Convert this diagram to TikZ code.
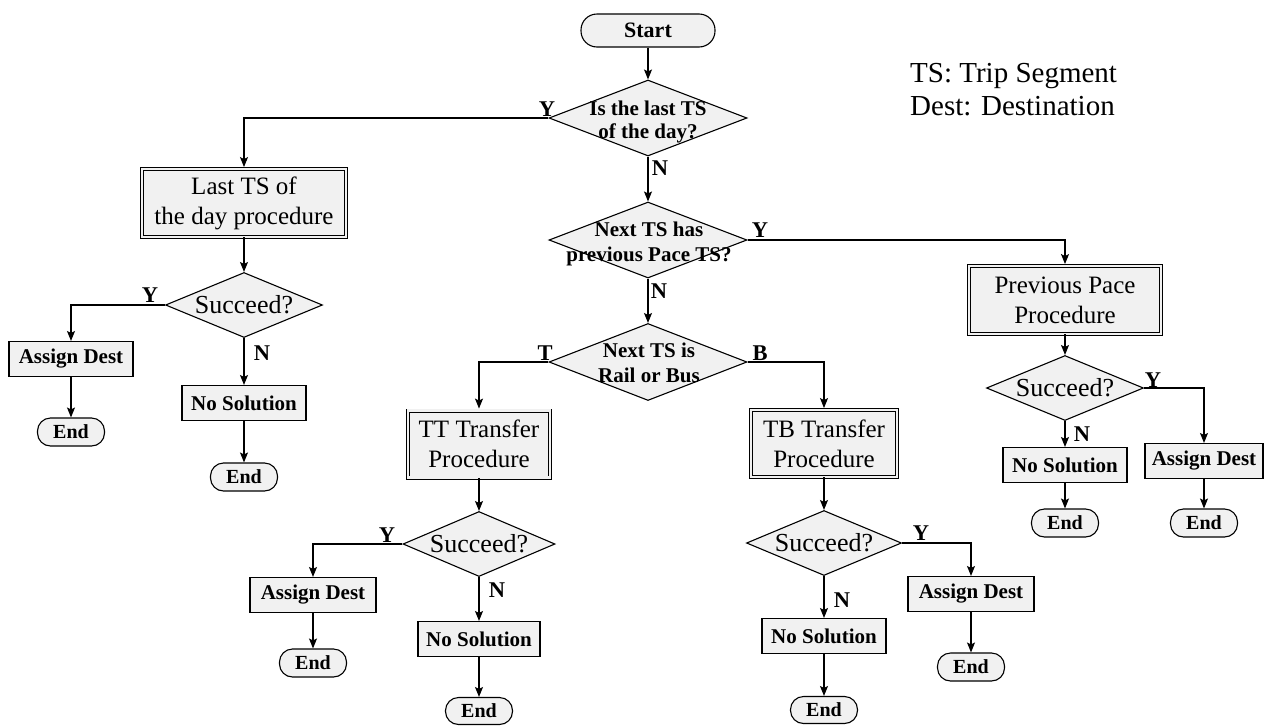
\documentclass[tikz,border=0pt]{standalone}
\usepackage{fontspec}
\setmainfont{Liberation Serif}
\usetikzlibrary{arrows.meta,shapes.geometric}
\definecolor{boxfill}{RGB}{241,241,241}
\tikzset{
  base/.style={draw=black, line width=1.1pt, fill=boxfill, inner sep=0pt, align=center},
  term/.style={base, rounded corners=13pt, minimum width=67pt, minimum height=28pt,
    font=\fontsize{20}{22}\selectfont\bfseries},
  act/.style={base, minimum width=124pt, minimum height=35pt,
    font=\fontsize{21}{24}\selectfont\bfseries},
  proc/.style={base, line width=0.9pt, double=boxfill, double distance=2.2pt,
    font=\fontsize{25}{30}\selectfont},
  dia/.style={base, diamond},
  qtext/.style={inner sep=0pt, align=center, font=\fontsize{21}{25}\selectfont\bfseries},
  stext/.style={inner sep=0pt, font=\fontsize{26}{28}\selectfont},
  lab/.style={inner sep=0pt, font=\fontsize{22.5}{24}\selectfont\bfseries},
  arr/.style={line width=1.1pt, -{Stealth[length=10pt,width=8pt,inset=2pt]}},
  parr/.style={arr, shorten >=1.5pt},
}
\begin{document}
\begin{tikzpicture}[x=1pt, y=-1pt]
\useasboundingbox (0,0) rectangle (1264,726);

% legend (base anchor sits on the last line)
\node[inner sep=0pt, anchor=base west, align=left, font=\fontsize{29}{33}\selectfont]
  (legend) at (910,115) {TS: Trip Segment\\Dest: Destination};

% main spine
\node[term, rounded corners=16pt, minimum width=134pt, minimum height=33pt, font=\fontsize{22}{24}\selectfont\bfseries]
  (start) at (648,30.5) {Start};
\node[dia, minimum width=198pt, minimum height=76pt] (d1) at (648,118) {};
\node[qtext, font=\fontsize{21}{23}\selectfont\bfseries] (d1t) at (648,122) {Is the last TS\\of the day?};
\node[dia, minimum width=198pt, minimum height=76pt] (d3) at (648,240) {};
\node[qtext] (d3t) at (649,244) {Next TS has\\previous Pace TS?};
\node[dia, minimum width=198pt, minimum height=77pt] (d4) at (648,362) {};
\node[qtext] (d4t) at (649,363) {Next TS is\\Rail or Bus};

% last trip segment branch
\node[proc, minimum width=204pt, minimum height=68pt] (last) at (244,203) {Last TS of\\the day procedure};
\node[dia, minimum width=157pt, minimum height=65pt] (s1) at (244,305) {};
\node[stext] (s1t) at (244,305) {Succeed?};
\node[act] (ad1) at (71,359) {Assign Dest};
\node[term] (e1) at (71,432) {End};
\node[act] (ns1) at (244,403) {No Solution};
\node[term] (e2) at (244,477) {End};

% previous pace branch
\node[proc, minimum width=192pt, minimum height=68pt] (pp) at (1065,300) {Previous Pace\\Procedure};
\node[dia, minimum width=157pt, minimum height=65pt] (s4) at (1065,388) {};
\node[stext] (s4t) at (1065,388) {Succeed?};
\node[act, minimum width=118pt] (ad4) at (1204,461) {Assign Dest};
\node[term] (e7) at (1204,523) {End};
\node[act] (ns4) at (1065,465) {No Solution};
\node[term] (e8) at (1065,523) {End};

% rail transfer branch
\node[proc, minimum width=142pt, minimum height=67pt] (tt) at (479,444) {TT Transfer\\Procedure};
\node[dia, minimum width=152pt, minimum height=65pt] (s2) at (479,544) {};
\node[stext] (s2t) at (479,544) {Succeed?};
\node[act, minimum width=126pt] (ad2) at (313,595) {Assign Dest};
\node[term] (e3) at (313,663) {End};
\node[act, minimum width=122pt] (ns2) at (479,639) {No Solution};
\node[term, minimum height=27pt] (e4) at (479,711) {End};

% bus transfer branch
\node[proc, minimum width=146pt, minimum height=67pt] (tb) at (824,443.5) {TB Transfer\\Procedure};
\node[dia, minimum width=155pt, minimum height=65pt] (s3) at (824,543) {};
\node[stext] (s3t) at (824,543) {Succeed?};
\node[act, minimum width=126pt] (ad3) at (971,594) {Assign Dest};
\node[term] (e5) at (971,667) {End};
\node[act] (ns3) at (824,636) {No Solution};
\node[term, minimum height=27pt] (e6) at (824,710) {End};

% branch labels
\node[lab] (ly1) at (547,109) {Y};
\node[lab] (ln1) at (660,168) {N};
\node[lab] (ly3) at (760,230) {Y};
\node[lab] (ln3) at (659,291) {N};
\node[lab] (lt4) at (545,353) {T};
\node[lab] (lb4) at (760,353) {B};
\node[lab] (lys1) at (150,295) {Y};
\node[lab] (lns1) at (262,353) {N};
\node[lab] (lys2) at (387,535) {Y};
\node[lab] (lns2) at (497,590) {N};
\node[lab] (lys3) at (921,533) {Y};
\node[lab] (lns3) at (842,600) {N};
\node[lab] (lys4) at (1153,380) {Y};
\node[lab] (lns4) at (1082,434) {N};

% connectors
\draw[arr] (start.south) -- (d1.north);
\draw[parr] (d1.west) -| (last.north);
\draw[arr] (d1.south) -- (d3.north);
\draw[arr] (last.south) -- (s1.north);
\draw[arr] (s1.west) -| (ad1.north);
\draw[arr] (ad1.south) -- (e1.north);
\draw[arr] (s1.south) -- (ns1.north);
\draw[arr] (ns1.south) -- (e2.north);

\draw[parr] (d3.east) -| (pp.north);
\draw[arr] (d3.south) -- (d4.north);
\draw[arr] (pp.south) -- (s4.north);
\draw[arr] (s4.east) -| (ad4.north);
\draw[arr] (ad4.south) -- (e7.north);
\draw[arr] (s4.south) -- (ns4.north);
\draw[arr] (ns4.south) -- (e8.north);

\draw[parr] (d4.west) -| (tt.north);
\draw[arr] (tt.south) -- (s2.north);
\draw[arr] (s2.west) -| (ad2.north);
\draw[arr] (ad2.south) -- (e3.north);
\draw[arr] (s2.south) -- (ns2.north);
\draw[arr] (ns2.south) -- (e4.north);

\draw[parr] (d4.east) -| (tb.north);
\draw[arr] (tb.south) -- (s3.north);
\draw[arr] (s3.east) -| (ad3.north);
\draw[arr] (ad3.south) -- (e5.north);
\draw[arr] (s3.south) -- (ns3.north);
\draw[arr] (ns3.south) -- (e6.north);
\end{tikzpicture}
\end{document}
